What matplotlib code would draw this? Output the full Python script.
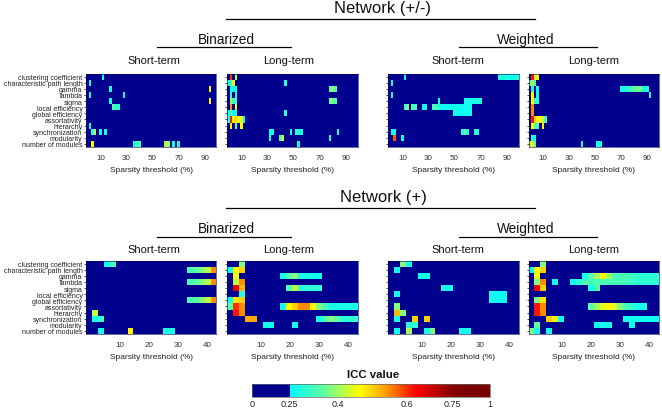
import numpy as np
import matplotlib
matplotlib.use('Agg')
import matplotlib.pyplot as plt
from matplotlib.colors import LinearSegmentedColormap, FuncNorm
from matplotlib.cm import ScalarMappable

plt.rcParams['font.family'] = ['Liberation Sans', 'DejaVu Sans']

measures = ['clustering coefficient', 'characteristic path length', 'gamma', 'lambda',
            'sigma', 'local efficiency', 'global efficiency', 'assortativity',
            'hierarchy', 'synchronization', 'modularity', 'number of modules']

cbar_ticks = [0, 0.25, 0.4, 0.6, 0.75, 1]
cbar_pos = [0, 0.158, 0.36, 0.65, 0.84, 1]

# ICC values: row -> list of (first column, values)
# Network (+/-), 50 threshold columns
pm_bin_short = {
    0: [(6, [.27])],
    1: [(1, [.27])],
    2: [(9, [.28]), (47, [.47])],
    3: [(1, [.27]), (14, [.27])],
    4: [(9, [.27]), (47, [.47])],
    5: [(10, [.35, .29, .29])],
    8: [(1, [.27])],
    9: [(2, [.28, .42]), (5, [.27]), (7, [.27])],
    11: [(2, [.47]), (18, [.27, .32, .32]), (30, [.4, .4]), (33, [.27]), (35, [.27])],
}
pm_bin_long = {
    0: [(1, [.6]), (3, [.42])],
    1: [(0, [.27, .35, .45]), (22, [.3])],
    2: [(1, [.27, .27, .27]), (39, [.33, .4, .33])],
    3: [(1, [.3]), (3, [.27])],
    4: [(1, [.4, .33, .3]), (39, [.35, .38, .33])],
    5: [(1, [.55]), (3, [.47])],
    6: [(0, [.27, .33, .27, .27]), (22, [.3])],
    7: [(0, [.3, .62, .47, .5, .45, .45, .27])],
    8: [(1, [.47]), (3, [.33]), (5, [.47])],
    9: [(16, [.27, .27]), (24, [.27]), (26, [.28, .3, .28]), (42, [.27])],
    10: [(16, [.27]), (20, [.33, .45]), (39, [.3])],
    11: [(27, [.27])],
}
pm_wei_short = {
    0: [(6, [.27]), (42, [.28] * 8)],
    1: [(1, [.27])],
    3: [(1, [.27])],
    4: [(19, [.27]), (29, [.28] * 7)],
    5: [(6, [.3, .38]), (9, [.33, .33]), (13, [.28, .28]), (17, [.33, .33] + [.27] * 13)],
    6: [(25, [.27] * 7)],
    9: [(1, [.28, .28]), (28, [.3, .35, .3]), (33, [.3, .3])],
    10: [(2, [.58]), (5, [.27])],
}
pm_wei_long = {
    0: [(1, [.62, .42, .47])],
    1: [(0, [.35, .4, .35])],
    2: [(1, [.27]), (3, [.27]), (35, [.27, .28, .3, .3, .33, .35, .37, .37, .33, .28, .27])],
    3: [(1, [.47]), (3, [.27]), (46, [.27])],
    4: [(1, [.45, .3, .3])],
    5: [(1, [.55])],
    6: [(1, [.55])],
    7: [(1, [.62, .5, .47, .45, .42, .33])],
    8: [(1, [.45, .33, .33]), (5, [.47])],
    10: [(1, [.27, .27])],
    11: [(0, [.42, .45, .33]), (20, [.27]), (26, [.27, .27])],
}

# Network (+), 22 threshold columns
p_bin_short = {
    0: [(3, [.27, .33])],
    1: [(17, [.33, .35, .38, .42, .55])],
    3: [(17, [.33, .35, .38, .42, .55])],
    6: [(17, [.33, .35, .38, .42, .55])],
    8: [(1, [.42])],
    9: [(1, [.27, .32])],
    11: [(2, [.27]), (7, [.47]), (13, [.28, .28])],
}
p_bin_long = {
    0: [(2, [.38])],
    1: [(0, [.27, .47, .5])],
    2: [(1, [.45]), (9, [.27, .35, .38, .28, .28, .27, .27])],
    3: [(1, [.42, .55])],
    4: [(1, [.65, .52]), (10, [.33, .42, .3, .3, .3, .3])],
    5: [(2, [.3])],
    6: [(0, [.27, .48, .5])],
    7: [(0, [.35, .6, .55]), (9, [.27, .47, .5, .55, .55, .47, .38, .33, .28, .28, .28, .28, .28])],
    8: [(1, [.62, .55])],
    9: [(3, [.53, .53]), (15, [.27, .33, .38, .35, .3, .3, .3])],
    10: [(6, [.27, .27]), (11, [.27])],
}
p_wei_short = {
    0: [(2, [.38, .27])],
    1: [(1, [.27])],
    2: [(5, [.27, .27])],
    4: [(9, [.27, .27])],
    5: [(1, [.27]), (17, [.27, .26, .27])],
    6: [(17, [.27, .26, .27])],
    7: [(1, [.38])],
    8: [(1, [.52, .38])],
    9: [(1, [.27]), (4, [.5]), (6, [.5])],
    10: [(3, [.3, .3])],
    11: [(1, [.27]), (3, [.4]), (6, [.27, .38]), (12, [.27, .27])],
}
p_wei_long = {
    0: [(2, [.38])],
    1: [(0, [.27, .47, .5])],
    2: [(1, [.45]), (9, [.27, .35, .4, .47, .4, .33, .33, .33, .32, .3, .3, .3, .3])],
    3: [(1, [.38, .55]), (4, [.27]), (7, [.27, .3, .33, .33, .33, .33, .33, .33, .33, .32, .32, .3, .3, .3, .3])],
    4: [(1, [.65, .5]), (10, [.27, .33])],
    6: [(1, [.38, .48])],
    7: [(1, [.62, .55]), (10, [.35, .4, .45, .47, .45, .38, .33, .3, .28, .28])],
    8: [(1, [.62, .55])],
    9: [(3, [.5, .47, .27]), (16, [.27] * 6)],
    10: [(1, [.35]), (11, [.27, .27, .27]), (17, [.27])],
    11: [(0, [.38, .27]), (3, [.27])],
}

# colormap: navy under 0.25, then a jet-like ramp that goes flat in dark red
icc_cmap = LinearSegmentedColormap.from_list('icc', [
    (0, '#00008f'), (0.158, '#00008f'), (0.159, '#00ffff'), (0.3, '#60ffa0'),
    (0.453, '#ffff00'), (0.56, '#ffa000'), (0.69, '#ff0000'), (0.85, '#800000'),
    (1, '#780000')], N=256)
icc_norm = FuncNorm((lambda v: np.interp(v, cbar_ticks, cbar_pos),
                     lambda p: np.interp(p, cbar_pos, cbar_ticks)), vmin=0, vmax=1)

W, H = 662, 410
fig = plt.figure(figsize=(W / 100, H / 100), dpi=100)


def px_axes(x0, x1, y0, y1):
    return fig.add_axes([x0 / W, 1 - y1 / H, (x1 - x0) / W, (y1 - y0) / H])


def px_text(x, y, s, size, **kw):
    fig.text(x / W, 1 - y / H, s, fontsize=size, ha='center', va='center', color='#111111', **kw)


def px_line(x0, x1, y):
    fig.add_artist(plt.Line2D([x0 / W, x1 / W], [1 - y / H, 1 - y / H], color='black', lw=0.9))


def draw_panel(x0, y0, rows, ncol, xmin, xmax, xticks, labels):
    ax = px_axes(x0, x0 + 130.5, y0, y0 + 73.5)
    grid = np.zeros((len(measures), ncol))
    for r, runs in rows.items():
        for start, vals in runs:
            grid[r, start:start + len(vals)] = vals
    xedges = np.linspace(xmin, xmax, ncol + 1)
    yedges = np.arange(len(measures) + 1) - 0.5
    ax.pcolormesh(xedges, yedges, grid, cmap=icc_cmap, norm=icc_norm)
    ax.set_ylim(len(measures) - 0.5, -0.5)
    ax.set_xticks(xticks)
    ax.set_yticks(range(len(measures)))
    ax.set_yticklabels(measures if labels else [], linespacing=0.9)
    ax.tick_params(axis='x', labelsize=5.8, length=0, pad=5, labelcolor='#333333')
    ax.tick_params(axis='y', labelsize=5.0, length=1.5, width=0.5, pad=1, labelcolor='#222222')
    for s in ax.spines.values():
        s.set_linewidth(0.4)
        s.set_color('#000050')
    ax.set_xlabel('Sparsity threshold (%)', fontsize=6, labelpad=4, color='#222222')
    return ax


col_x = [86, 227, 388, 528.5]
top_panels = [pm_bin_short, pm_bin_long, pm_wei_short, pm_wei_long]
bottom_panels = [p_bin_short, p_bin_long, p_wei_short, p_wei_long]
for i, x0 in enumerate(col_x):
    draw_panel(x0, 74.5, top_panels[i], 50, -1, 99, [10, 30, 50, 70, 90], i == 0)
    draw_panel(x0, 261.5, bottom_panels[i], 22, -1.5, 43.2, [10, 20, 30, 40], i == 0)

# headers
for y_net, y_line, y_sub, y_subline, y_term, name in [
        (9, 20, 40, 48, 61, 'Network (+/-)'),
        (198, 209, 229, 237.5, 250, 'Network (+)')]:
    px_text(383, y_net, name, 12)
    px_line(226, 535, y_line)
    px_text(226, y_sub, 'Binarized', 9.8)
    px_line(157, 291, y_subline)
    px_text(526, y_sub, 'Weighted', 9.8)
    px_line(459, 597, y_subline)
    px_text(154, y_term, 'Short-term', 8)
    px_text(289, y_term, 'Long-term', 8)
    px_text(458, y_term, 'Short-term', 8)
    px_text(594, y_term, 'Long-term', 8)

# colorbar
cax = px_axes(252, 490, 385, 398)
cb = fig.colorbar(ScalarMappable(norm=icc_norm, cmap=icc_cmap), cax=cax,
                  orientation='horizontal', ticks=cbar_ticks)
cb.ax.set_xticklabels(['0', '0.25', '0.4', '0.6', '0.75', '1'])
cb.ax.tick_params(labelsize=6.5, length=0, pad=1.5, labelcolor='#222222')
cb.ax.minorticks_off()
cb.outline.set_linewidth(0.5)
cb.outline.set_edgecolor('#666666')
px_text(373, 375, 'ICC value', 8.2, fontweight='bold')

fig.savefig('out.png', dpi=100)
